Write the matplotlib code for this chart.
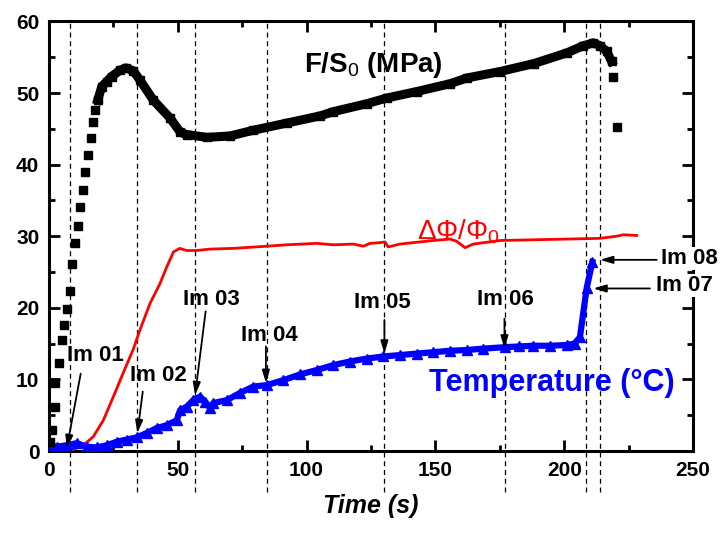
import matplotlib
matplotlib.use("Agg")
import matplotlib.pyplot as plt
from matplotlib.ticker import MultipleLocator

plt.rcParams['font.family'] = ['Liberation Sans', 'DejaVu Sans']
plt.rcParams['mathtext.fontset'] = 'custom'
plt.rcParams['mathtext.rm'] = 'Liberation Sans'
plt.rcParams['mathtext.it'] = 'Liberation Sans:italic'
plt.rcParams['mathtext.bf'] = 'Liberation Sans:bold'

# F/S0 (MPa): sparse squares at the start and at the end, dense band in between
stress_head_t = [0.5, 1.2, 2.3, 2.3, 4.0, 5.0, 5.9, 6.9, 8.2, 9.0, 9.9, 11.3, 12.0, 13.1, 14.0, 15.3, 16.2, 17.0, 18.0]
stress_head = [1.2, 3.0, 6.1, 9.5, 12.3, 15.5, 17.6, 19.9, 22.3, 26.1, 29.0, 31.4, 34.1, 36.4, 38.9, 41.4, 43.7, 46.0, 47.6]
stress_t = [18.9, 20.5, 22.4, 24.3, 27.6, 29.9, 32.7, 35.3, 40.5, 47.0, 51.0, 53.5, 61.2, 70.3, 79.3, 92.3,
            105.2, 110.4, 123.3, 131.1, 142.7, 155.7, 162.2, 175.1, 188.1, 201.0, 207.4, 211.3, 213.9, 216.5, 218.4]
stress = [49.0, 50.9, 51.6, 52.3, 53.2, 53.5, 53.1, 51.8, 49.0, 46.5, 44.5, 44.2, 43.8, 44.0, 44.8, 45.8,
          46.8, 47.4, 48.5, 49.3, 50.2, 51.3, 52.1, 53.0, 54.1, 55.6, 56.6, 57.0, 56.6, 55.8, 54.4]
stress_tail_t = [219.1, 220.4]
stress_tail = [52.3, 45.3]

# dPhi/Phi0
phi_t = [0.4, 9.4, 13.3, 17.2, 21.1, 25.0, 28.8, 32.8, 35.3, 39.2, 43.1, 45.7, 48.3, 50.8, 53.4, 57.3,
         62.5, 71.5, 84.5, 92.3, 103.9, 110.4, 118.1, 122.0, 124.6, 128.5, 130.4, 131.7, 136.2, 149.2,
         155.7, 158.2, 161.5, 164.7, 175.1, 188.0, 201.0, 213.9, 220.4, 223.0, 228.1]
phi = [0.1, 0.2, 0.8, 2.0, 4.3, 7.6, 10.9, 14.3, 16.9, 20.6, 23.4, 25.7, 27.8, 28.3, 28.0, 28.0,
       28.2, 28.3, 28.6, 28.8, 29.0, 28.8, 28.9, 28.6, 29.0, 29.1, 29.2, 28.5, 28.9, 29.4,
       29.6, 29.3, 28.4, 28.9, 29.4, 29.5, 29.6, 29.7, 30.0, 30.2, 30.1]

# Temperature (C)
temp_t = [0.4, 3.0, 6.9, 10.8, 14.6, 18.5, 22.4, 26.3, 30.2, 34.0, 37.9, 41.8, 45.7, 49.6, 50.9, 53.5,
          56.0, 58.6, 60.6, 62.5, 63.8, 69.0, 74.1, 79.3, 84.5, 91.0, 97.5, 103.9, 110.4, 116.8, 123.3,
          129.8, 136.2, 142.7, 149.2, 155.7, 162.1, 168.6, 177.0, 182.5, 188.0, 194.5, 200.9, 204.0,
          206.1, 208.7, 210.9]
temp = [0.8, 0.6, 0.8, 1.1, 0.6, 0.5, 0.8, 1.3, 1.6, 1.9, 2.5, 3.2, 3.6, 4.3, 5.7, 6.2,
        7.1, 7.6, 6.9, 6.0, 6.7, 7.1, 8.1, 9.0, 9.2, 9.9, 10.7, 11.3, 12.0, 12.5, 12.9,
        13.2, 13.4, 13.6, 13.8, 14.0, 14.1, 14.3, 14.5, 14.6, 14.7, 14.7, 14.8, 15.0,
        15.9, 22.7, 26.4]

# image times (dashed lines)
image_t = [8.3, 34.0, 56.5, 84.5, 130.2, 177.2, 208.3, 213.8]

# image labels: text position, arrow start, arrow tip
labels = ["Im 01", "Im 02", "Im 03", "Im 04", "Im 05", "Im 06", "Im 07", "Im 08"]
label_xy = [(17.9, 13.3), (42.3, 10.5), (63.2, 21.1), (85.7, 16.2), (129.5, 20.7), (177.3, 21.2), (235.5, 23.1), (237.5, 26.9)]
arrow_from = [(12.3, 10.8), (36.4, 8.3), (60.8, 19.5), (84.2, 14.6), (130.2, 18.3), (176.8, 18.5), (233.3, 22.7), (235.9, 26.7)]
arrow_to = [(6.9, 0.4), (34.3, 2.5), (56.7, 7.8), (84.2, 9.5), (130.2, 13.6), (176.8, 14.3), (211.3, 22.7), (213.9, 26.7)]

fig = plt.figure(figsize=(7.24, 5.35), dpi=100)
ax = fig.add_axes([0.0677, 0.157, 0.8895, 0.803])

for t in image_t:
    ax.plot([t, t], [-5.7, 60], color="black", lw=0.9, ls=(0, (4, 3)), clip_on=False, zorder=1)

ax.plot(phi_t, phi, color="red", lw=2, zorder=3)
ax.plot(temp_t, temp, color="blue", lw=4.5, marker="^", ms=6.5, zorder=4)
ax.plot(stress_head_t, stress_head, "s", color="black", ms=5.5, zorder=5)
ax.plot(stress_t, stress, "s-", color="black", ms=6, lw=6.5, zorder=5)
ax.plot(stress_tail_t, stress_tail, "s", color="black", ms=5.5, zorder=5)

for lab, xy, a, b in zip(labels, label_xy, arrow_from, arrow_to):
    if lab in ("Im 07", "Im 08"):
        ax.text(xy[0], xy[1], lab, fontsize=16, fontweight="bold", ha="left", va="center",
                clip_on=False, zorder=8, bbox=dict(facecolor="white", edgecolor="none", pad=0.5))
    else:
        ax.text(xy[0], xy[1], lab, fontsize=16, fontweight="bold", ha="center", va="center", zorder=6)
    ax.annotate("", xy=b, xytext=a, zorder=7, annotation_clip=False,
                arrowprops=dict(arrowstyle="-|>,head_length=0.5,head_width=0.15", color="black",
                                lw=1.3, mutation_scale=15, shrinkA=0, shrinkB=0))

ax.text(126, 53.9, "F/S$_0$ (MPa)", fontsize=20, fontweight="bold", ha="center", va="center")
ax.text(158.8, 30.6, r"ΔΦ/Φ$_0$", fontsize=20, color="red", ha="center", va="center")
ax.text(195.1, 9.5, "Temperature (°C)", fontsize=22, fontweight="bold", color="blue", ha="center", va="center")

ax.set_xlim(0, 250)
ax.set_ylim(0, 60)
ax.xaxis.set_major_locator(MultipleLocator(50))
ax.xaxis.set_minor_locator(MultipleLocator(25))
ax.yaxis.set_major_locator(MultipleLocator(10))
ax.yaxis.set_minor_locator(MultipleLocator(5))
ax.tick_params(which="both", direction="in", top=True, right=True, width=2)
ax.tick_params(which="major", length=8, labelsize=15, pad=7)
ax.tick_params(which="minor", length=4)
for lbl in ax.get_xticklabels() + ax.get_yticklabels():
    lbl.set_fontweight("bold")
for s in ax.spines.values():
    s.set_linewidth(2.2)
ax.set_xlabel("Time (s)", fontsize=18, fontweight="bold", fontstyle="italic", labelpad=10)

fig.savefig("out.png", dpi=100)
